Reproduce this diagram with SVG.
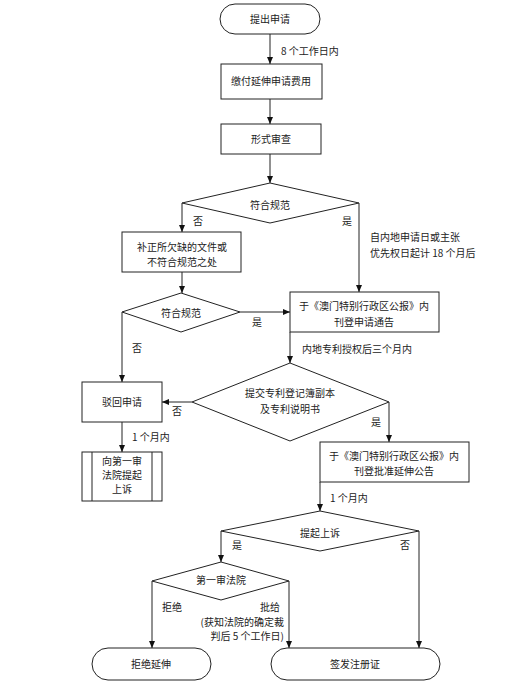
<svg xmlns="http://www.w3.org/2000/svg" width="523" height="695" viewBox="0 0 523 695">
<defs>
<marker id="ah" markerWidth="7" markerHeight="6" refX="7" refY="3" orient="auto" markerUnits="userSpaceOnUse">
<path d="M0,0 L7,3 L0,6 Z" fill="#111"/>
</marker>
<style>
.s{fill:#fff;stroke:#222;stroke-width:1}
.c{fill:none;stroke:#222;stroke-width:1}
.a{marker-end:url(#ah)}
text{font-family:"Noto Sans CJK SC","Liberation Sans",sans-serif;font-size:10px;fill:#222}
.m{text-anchor:middle}
.e{text-anchor:end}
</style>
</defs>
<rect width="523" height="695" fill="#fff"/>
<g id="connectors">
<path class="c a" d="M270,34 V64"/>
<path class="c a" d="M270,99 V124"/>
<path class="c a" d="M270,154 V183"/>
<path class="c a" d="M182,203 V232"/>
<path class="c a" d="M359,203 V292"/>
<path class="c a" d="M182,272 V293"/>
<path class="c a" d="M240,312 H290"/>
<path class="c a" d="M122,312 V382"/>
<path class="c a" d="M290,332 V363"/>
<path class="c a" d="M192,402 H162"/>
<path class="c a" d="M389,402 V442"/>
<path class="c a" d="M122,422 V452"/>
<path class="c a" d="M320,482 V511"/>
<path class="c a" d="M221,531 V562"/>
<path class="c a" d="M419,531 V648"/>
<path class="c a" d="M152,581 V648"/>
<path class="c a" d="M289,581 V648"/>
<text x="281" y="55">8 个工作日内</text>
<text x="193" y="225">否</text>
<text x="342" y="225">是</text>
<text x="370" y="241">自内地申请日或主张</text>
<text x="370" y="257">优先权日起计 18 个月后</text>
<text x="252" y="326">是</text>
<text x="132" y="352">否</text>
<text x="302" y="353">内地专利授权后三个月内</text>
<text x="172" y="415">否</text>
<text x="371" y="426">是</text>
<text x="132" y="441">1 个月内</text>
<text x="330" y="502">1 个月内</text>
<text x="232" y="549">是</text>
<text x="400" y="549">否</text>
<text x="162" y="611">拒绝</text>
<text class="e" x="280" y="611">批给</text>
<text class="e" x="284" y="626">(获知法院的确定裁</text>
<text class="e" x="284" y="640">判后 5 个工作日)</text>
</g>
<g id="start">
<rect class="s" x="220" y="4" width="100" height="30" rx="15"/>
<text class="m" x="270" y="23">提出申请</text>
</g>
<g id="pay">
<rect class="s" x="221" y="64" width="101" height="35"/>
<text class="m" x="271" y="85">缴付延伸申请费用</text>
</g>
<g id="formal">
<rect class="s" x="221" y="124" width="100" height="30"/>
<text class="m" x="271" y="143">形式审查</text>
</g>
<g id="check1">
<polygon class="s" points="270,183 359,203 270,223 182,203"/>
<text class="m" x="270" y="209">符合规范</text>
</g>
<g id="correct">
<rect class="s" x="122" y="232" width="119" height="40"/>
<text class="m" x="182" y="251">补正所欠缺的文件或</text>
<text class="m" x="182" y="266">不符合规范之处</text>
</g>
<g id="check2">
<polygon class="s" points="181,293 240,312 181,332 122,312"/>
<text class="m" x="181" y="317">符合规范</text>
</g>
<g id="publish1">
<rect class="s" x="290" y="292" width="149" height="40"/>
<text class="m" x="364" y="310">于《澳门特别行政区公报》内</text>
<text class="m" x="364" y="326">刊登申请通告</text>
</g>
<g id="reject">
<rect class="s" x="82" y="382" width="80" height="40"/>
<text class="m" x="122" y="406">驳回申请</text>
</g>
<g id="submit">
<polygon class="s" points="290,363 389,402 290,441 192,402"/>
<text class="m" x="290" y="397">提交专利登记簿副本</text>
<text class="m" x="290" y="413">及专利说明书</text>
</g>
<g id="appeal1">
<rect class="s" x="82" y="452" width="80" height="49"/>
<line class="c" x1="92" y1="452" x2="92" y2="501"/>
<line class="c" x1="152" y1="452" x2="152" y2="501"/>
<text class="m" x="122" y="465">向第一审</text>
<text class="m" x="122" y="479">法院提起</text>
<text class="m" x="122" y="493">上诉</text>
</g>
<g id="publish2">
<rect class="s" x="320" y="442" width="149" height="40"/>
<text class="m" x="394" y="460">于《澳门特别行政区公报》内</text>
<text class="m" x="394" y="475">刊登批准延伸公告</text>
</g>
<g id="appeal">
<polygon class="s" points="320,511 419,531 320,551 221,531"/>
<text class="m" x="320" y="537">提起上诉</text>
</g>
<g id="court">
<polygon class="s" points="221,562 289,581 221,600 152,581"/>
<text class="m" x="221" y="584">第一审法院</text>
</g>
<g id="refuse">
<rect class="s" x="92" y="648" width="119" height="32" rx="16"/>
<text class="m" x="151" y="668">拒绝延伸</text>
</g>
<g id="issue">
<rect class="s" x="271" y="648" width="169" height="32" rx="16"/>
<text class="m" x="355" y="668">签发注册证</text>
</g>
</svg>
